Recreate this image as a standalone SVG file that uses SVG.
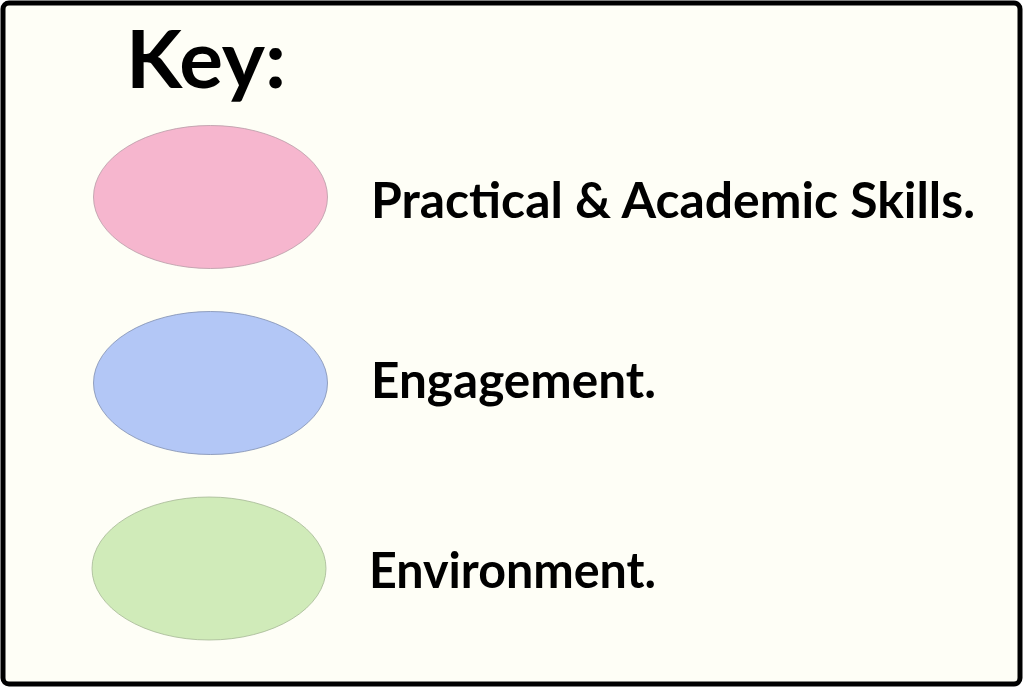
<svg xmlns="http://www.w3.org/2000/svg" width="1024" height="689" viewBox="0 0 1024 689">
<style>
.lbl{font-family:Lato,"Open Sans","Liberation Sans",sans-serif;font-weight:bold;fill:#000}
.ov{stroke-width:0.8}
</style>
<rect x="3" y="3" width="1017" height="681" rx="6" fill="#FEFEF6" stroke="#000" stroke-width="5"/>
<g id="title"><text class="lbl" x="126" y="88" font-size="80" textLength="160" lengthAdjust="spacingAndGlyphs">Key:</text></g>
<g id="skills">
<ellipse class="ov" cx="210.5" cy="197" rx="117" ry="71.5" fill="#F6B6CE" stroke="#B89AA6"/>
<text class="lbl" x="371" y="218" font-size="50" textLength="604" lengthAdjust="spacingAndGlyphs">Practical &amp; Academic Skills.</text>
</g>
<g id="engagement">
<ellipse class="ov" cx="210.5" cy="383" rx="117" ry="71.5" fill="#B3C7F6" stroke="#7F8EB0"/>
<text class="lbl" x="371" y="398" font-size="50" textLength="285" lengthAdjust="spacingAndGlyphs">Engagement.</text>
</g>
<g id="environment">
<ellipse class="ov" cx="209" cy="568.5" rx="117" ry="71.5" fill="#D0EBB9" stroke="#A6B896"/>
<text class="lbl" x="369" y="588" font-size="50" textLength="287" lengthAdjust="spacingAndGlyphs">Environment.</text>
</g>
<g id="connectors"></g>
</svg>
